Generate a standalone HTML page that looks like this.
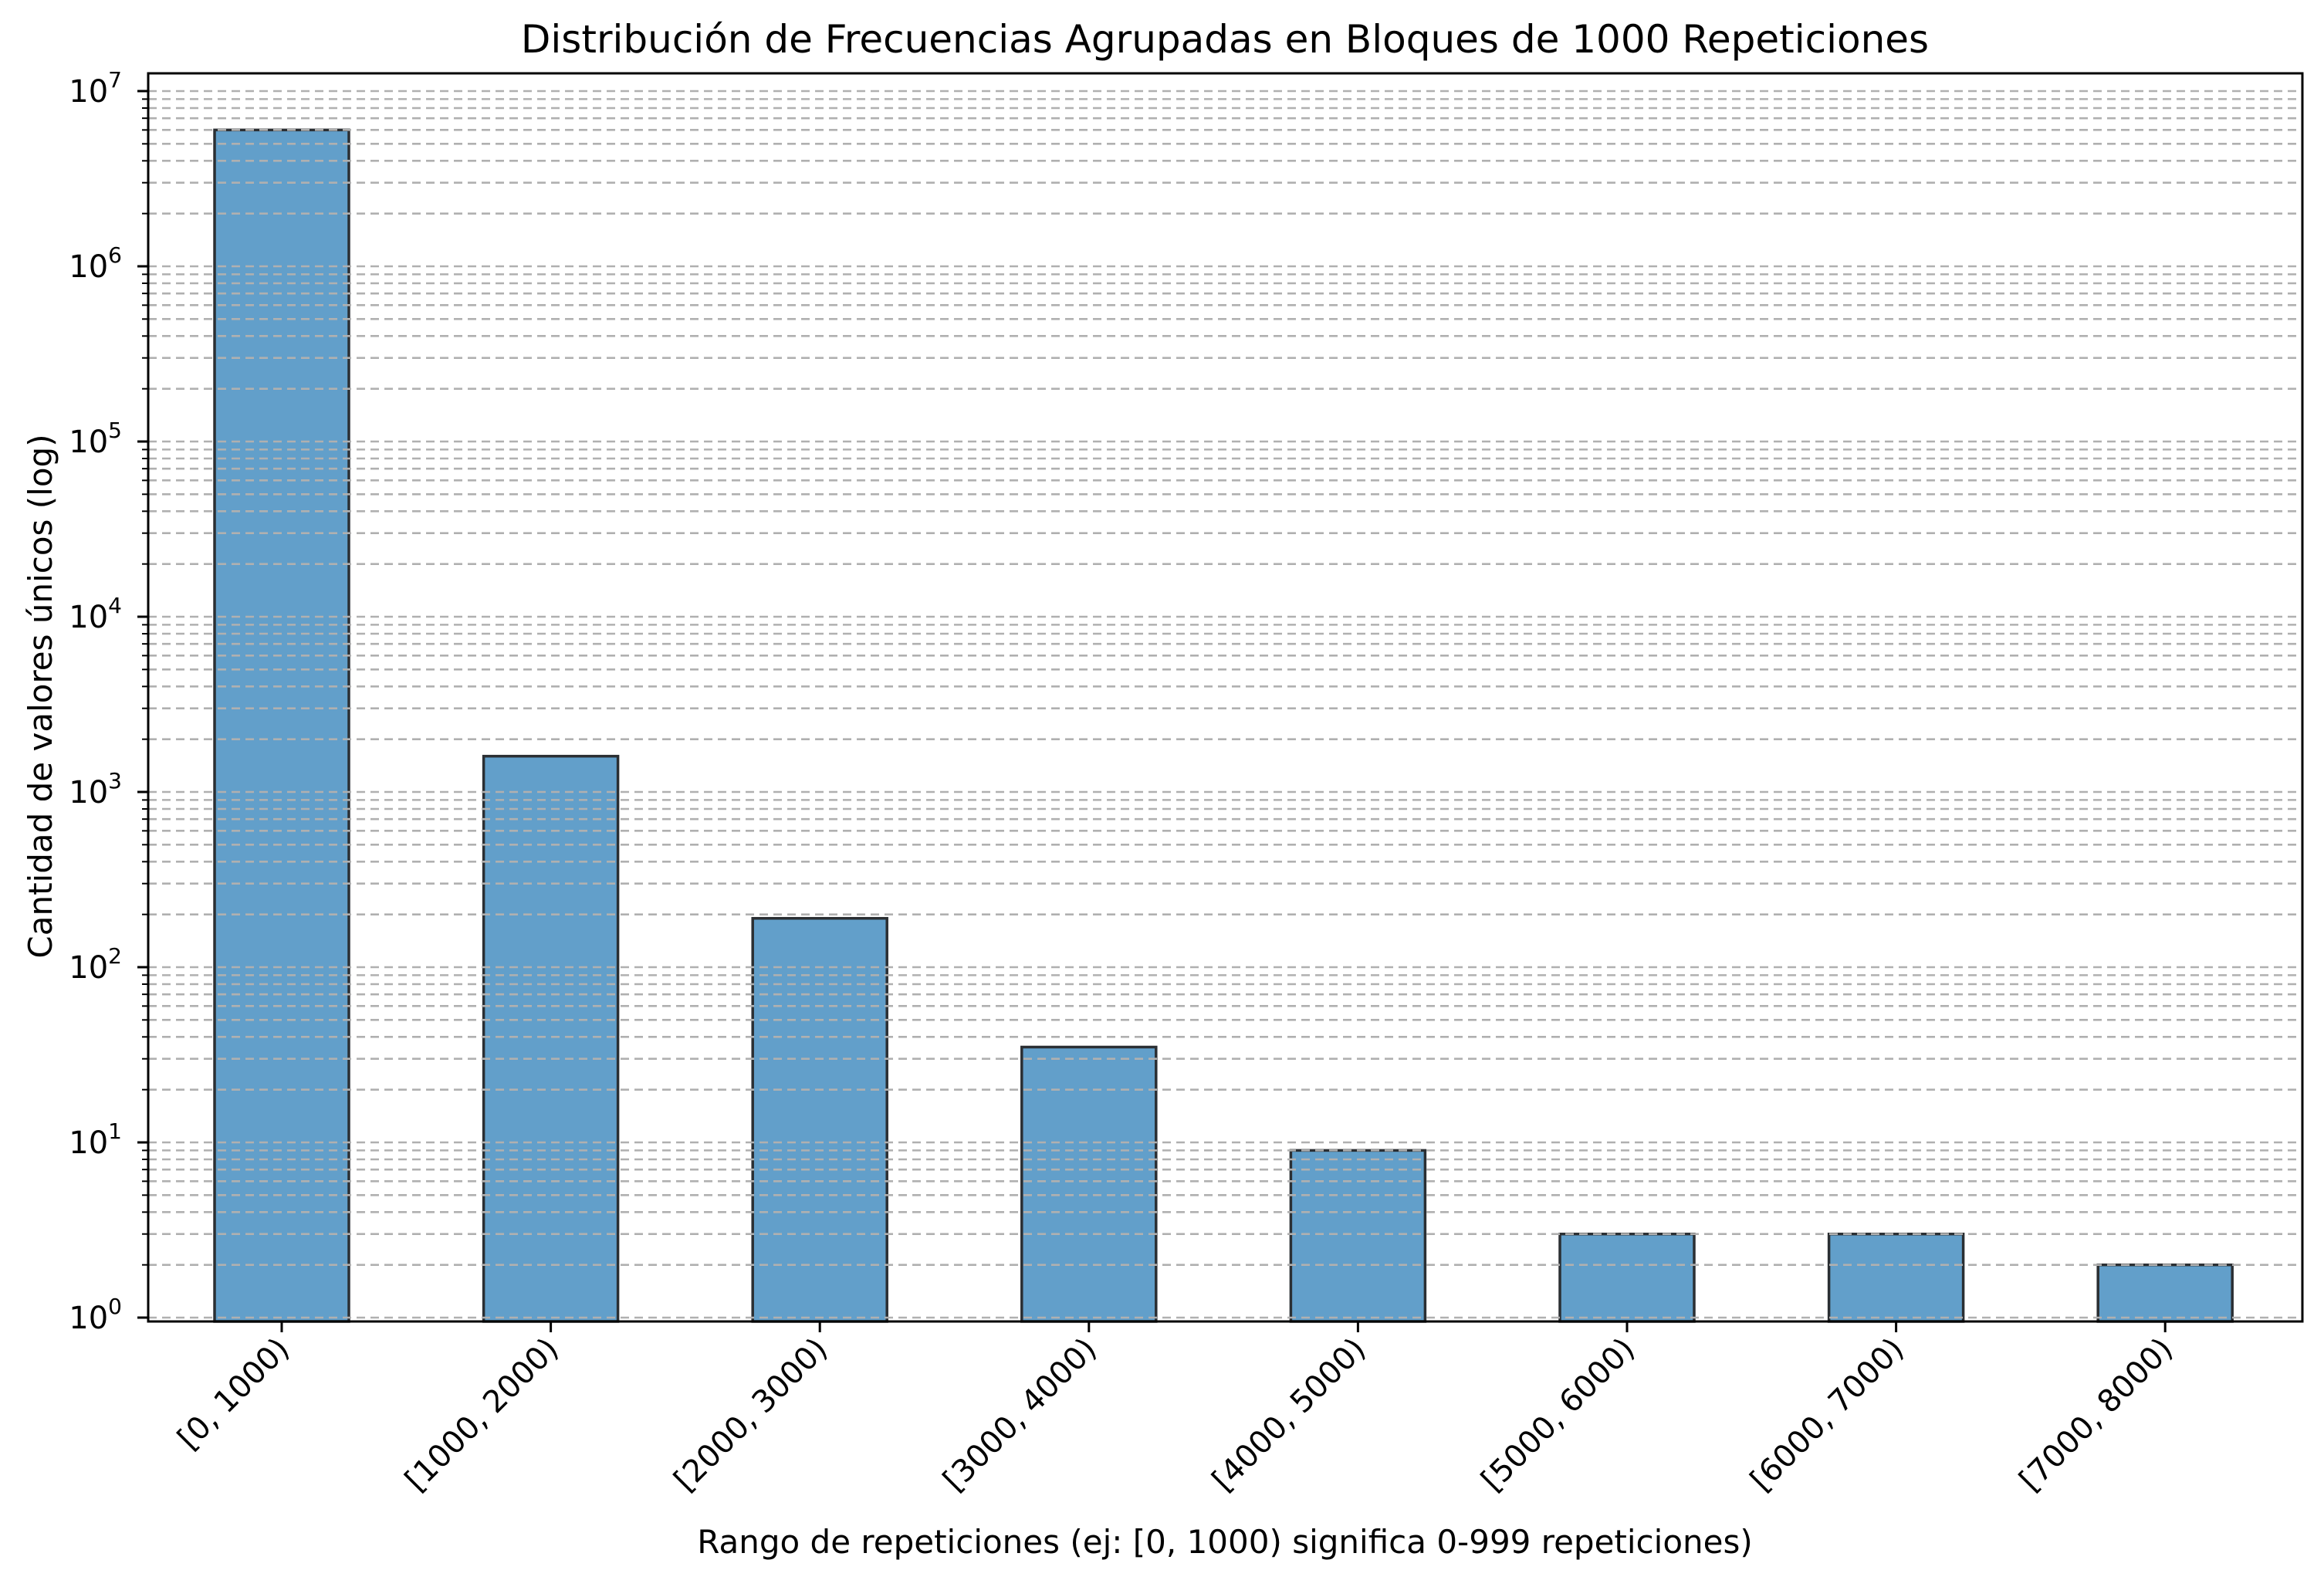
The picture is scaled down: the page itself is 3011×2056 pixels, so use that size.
<!DOCTYPE html>
<html><head><meta charset="utf-8"><style>
html,body{margin:0;padding:0;background:#fff;}
svg text{font-family:"DejaVu Sans","Liberation Sans",sans-serif;fill:#000;}
</style></head><body>
<svg id="chart" width="3011" height="2051" viewBox="0 0 3011 2051" xmlns="http://www.w3.org/2000/svg">
<rect width="3011" height="2051" fill="#fff"/>
<text x="1587" y="68" font-size="50" text-anchor="middle">Distribución de Frecuencias Agrupadas en Bloques de 1000 Repeticiones</text>
<text transform="translate(67,902) rotate(-90)" font-size="42" text-anchor="middle">Cantidad de valores únicos (log)</text>
<text x="1587" y="2012" font-size="42" text-anchor="middle">Rango de repeticiones (ej: [0, 1000) significa 0-999 repeticiones)</text>
<g id="bars"></g><g id="grid"></g><g id="axes"></g>
</svg>
<script>
const categories = ["[0, 1000)","[1000, 2000)","[2000, 3000)","[3000, 4000)","[4000, 5000)","[5000, 6000)","[6000, 7000)","[7000, 8000)"];
const counts = [6000000, 1600, 190, 35, 9, 3, 3, 2];
const yTickExps = [0,1,2,3,4,5,6,7];

const NS="http://www.w3.org/2000/svg";
const L=192,R=2983,T=95,B=1712;
const y0=1707, dec=227;
const x0=365, step=348.6, barW=174;
function xs(i){return x0+i*step;}
function ys(v){return y0-Math.log10(v)*dec;}
function mk(tag,attrs,parent){const e=document.createElementNS(NS,tag);for(const k in attrs)e.setAttribute(k,attrs[k]);parent.appendChild(e);return e;}
const gb=document.getElementById('bars'),gg=document.getElementById('grid'),ga=document.getElementById('axes');

counts.forEach((v,i)=>{
  const top=ys(v);
  const r=mk('rect',{x:xs(i)-barW/2,y:top,width:barW,height:B-top,fill:'#629fca',stroke:'#2b2f33','stroke-width':3.5},gb);
  
  
});

for(let e=0;e<=7;e++){
  for(let m=1;m<=9;m++){
    if(e===7&&m>1)break;
    const y=y0-(e+Math.log10(m))*dec;
    if(y<T)continue;
    const gl=mk('line',{x1:L,x2:R,y1:y,y2:y,stroke:'#b0b0b0','stroke-width':2.6,'stroke-dasharray':'11,7'},gg);
    
    
    mk('line',{x1:L,x2:L-(m===1?14:8),y1:y,y2:y,stroke:'#000','stroke-width':m===1?3:2},ga);
  }
}
yTickExps.forEach(e=>{
  const y=y0-e*dec;
  const t=mk('text',{x:158,y:y+14,'font-size':40,'text-anchor':'end'},ga);
  t.textContent='10';
  
  
  const s=mk('tspan',{dy:-19,'font-size':28},t); s.textContent=String(e);
});
categories.forEach((c,i)=>{
  const x=xs(i);
  mk('line',{x1:x,x2:x,y1:B,y2:B+14,stroke:'#000','stroke-width':3},ga);
  const t=mk('text',{transform:`translate(${x+12},${B+38}) rotate(-45)`,'font-size':40,'text-anchor':'end'},ga);
  t.textContent=c;
  
  
});
const frame=mk('rect',{x:L,y:T,width:R-L,height:B-T,fill:'none',stroke:'#000','stroke-width':3},ga);


</script>
</body></html>
